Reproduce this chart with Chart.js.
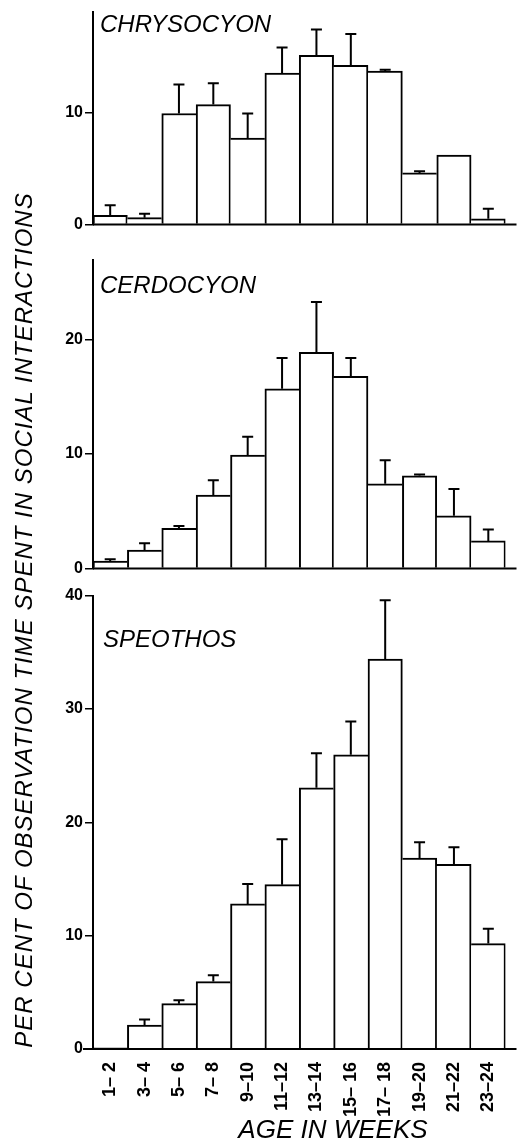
<!DOCTYPE html>
<html>
<head>
<meta charset="utf-8">
<script src="https://cdn.jsdelivr.net/npm/chart.js@4/dist/chart.umd.min.js"></script>
<style>
  html, body { margin: 0; padding: 0; background: #fff; }
  #wrap { position: relative; width: 517px; height: 1142px; overflow: hidden; }
  .panel { position: absolute; left: 0; width: 517px; }
  #ytitle {
    position: absolute; left: -426px; top: 606px; width: 900px; height: 28px;
    line-height: 28px; text-align: center; transform: rotate(-90deg);
    font: italic 24px "Liberation Sans", Arial, sans-serif; letter-spacing: 1px;
    color: #000; white-space: nowrap;
  }
</style>
</head>
<body>
<div id="wrap">
  <div class="panel" style="top:0; height:236px"><canvas id="c1"></canvas></div>
  <div class="panel" style="top:248px; height:332px"><canvas id="c2"></canvas></div>
  <div class="panel" style="top:584px; height:558px"><canvas id="c3"></canvas></div>
  <div id="ytitle">PER CENT OF OBSERVATION TIME SPENT IN SOCIAL INTERACTIONS</div>
</div>
<script>
const ageLabels = ['1– 2', '3– 4', '5– 6', '7– 8', '9–10', '11–12', '13–14', '15– 16', '17– 18', '19–20', '21–22', '23–24'];
const panelNames = ['CHRYSOCYON', 'CERDOCYON', 'SPEOTHOS'];
const xTitle = 'AGE IN WEEKS';

// mean per cent of time, and top of the error bar (null = none drawn)
const chrysocyonPct = [0.8, 0.6, 9.9, 10.7, 7.7, 13.5, 15.1, 14.2, 13.7, 4.6, 6.2, 0.5];
const chrysocyonErr = [1.7, 0.95, 12.5, 12.6, 9.9, 15.8, 17.4, 17.0, 13.8, 4.75, null, 1.4];
const cerdocyonPct = [0.65, 1.6, 3.5, 6.4, 9.9, 15.7, 18.9, 16.8, 7.4, 8.1, 4.6, 2.4];
const cerdocyonErr = [0.8, 2.2, 3.7, 7.7, 11.5, 18.4, 23.3, 18.4, 9.45, 8.2, 6.95, 3.4];
const speothosPct = [0.1, 2.1, 4.0, 5.95, 12.8, 14.5, 23.05, 25.95, 34.4, 16.85, 16.3, 9.3];
const speothosErr = [null, 2.6, 4.3, 6.5, 14.55, 18.5, 26.1, 28.9, 39.6, 18.25, 17.8, 10.6];

const FONT = '"Liberation Sans", Arial, sans-serif';

const errorBars = {
  id: 'errorBars',
  afterDatasetsDraw(chart, args, opts) {
    const { ctx } = chart;
    const y = chart.scales.y;
    const bars = chart.getDatasetMeta(0).data;
    ctx.save();
    ctx.strokeStyle = '#000';
    ctx.lineWidth = 2;
    bars.forEach((bar, i) => {
      const top = opts.tops[i];
      if (top == null) return;
      const yt = y.getPixelForValue(top);
      ctx.beginPath();
      ctx.moveTo(bar.x, bar.y);
      ctx.lineTo(bar.x, yt);
      ctx.moveTo(bar.x - 5.5, yt);
      ctx.lineTo(bar.x + 5.5, yt);
      ctx.stroke();
    });
    ctx.restore();
  }
};

const panelText = {
  id: 'panelText',
  afterDraw(chart, args, opts) {
    const { ctx, chartArea } = chart;
    const y0 = chart.scales.y.getPixelForValue(0);
    ctx.save();
    // baseline runs a little past the last bar
    ctx.strokeStyle = '#000';
    ctx.lineWidth = 2;
    ctx.beginPath();
    ctx.moveTo(chartArea.left - opts.baseLeft, y0);
    ctx.lineTo(chartArea.right + 11, y0);
    ctx.stroke();
    ctx.fillStyle = '#000';
    ctx.font = 'italic 24px ' + FONT;
    ctx.textBaseline = 'alphabetic';
    ctx.fillText(opts.name, opts.x, opts.y);
    if (opts.xTitle) {
      ctx.font = 'italic 26px ' + FONT;
      ctx.textAlign = 'center';
      ctx.fillText(opts.xTitle, 333, chart.height - 4);
    }
    ctx.restore();
  }
};

// draw each shared wall between neighbouring bars only once
function sideWidths(ctx) {
  const d = ctx.dataset.data;
  const i = ctx.dataIndex;
  const left = (i === 0 || d[i - 1] <= d[i]) ? 2 : 0;
  const right = (i === d.length - 1 || d[i + 1] < d[i]) ? 2 : 0;
  return { top: 2, left, right, bottom: 0 };
}

function makePanel(id, values, tops, cfg) {
  return new Chart(document.getElementById(id), {
    type: 'bar',
    data: {
      labels: ageLabels,
      datasets: [{
        data: values,
        backgroundColor: '#fff',
        borderColor: '#000',
        borderWidth: sideWidths,
        borderSkipped: 'start',
        categoryPercentage: 1,
        barPercentage: 1
      }]
    },
    options: {
      responsive: true,
      maintainAspectRatio: false,
      animation: false,
      layout: { padding: { top: 10, bottom: cfg.showX ? 0 : 10, left: 0, right: 11.5 } },
      plugins: {
        legend: { display: false },
        tooltip: { enabled: false },
        errorBars: { tops },
        panelText: { name: cfg.name, x: cfg.nameX, y: cfg.nameY, baseLeft: cfg.baseLeft, xTitle: cfg.showX ? xTitle : null }
      },
      scales: {
        x: {
          display: cfg.showX,
          grid: { display: false },
          border: { display: false },
          ticks: {
            color: '#000',
            font: { family: FONT, size: 18, weight: 'bold' },
            minRotation: 90,
            maxRotation: 90,
            padding: 5,
            autoSkip: false
          },
          afterFit(s) { s.height = cfg.showX ? 93 : 0; }
        },
        y: {
          min: 0,
          max: cfg.max,
          ticks: {
            stepSize: 10,
            color: '#000',
            padding: 2,
            font: { family: FONT, size: 16, weight: 'bold' }
          },
          grid: { drawOnChartArea: false, drawTicks: true, tickLength: 8, color: '#000', lineWidth: 1.5 },
          border: { display: true, color: '#000', width: 2 },
          afterBuildTicks(s) { s.ticks = s.ticks.filter(t => t.value % 10 === 0); },
          afterFit(s) { s.width = 93; }
        }
      }
    },
    plugins: [errorBars, panelText]
  });
}

makePanel('c1', chrysocyonPct, chrysocyonErr, { name: panelNames[0], nameX: 100, nameY: 32, max: 19, showX: false, baseLeft: 0 });
makePanel('c2', cerdocyonPct, cerdocyonErr, { name: panelNames[1], nameX: 100, nameY: 45, max: 27, showX: false, baseLeft: 0 });
makePanel('c3', speothosPct, speothosErr, { name: panelNames[2], nameX: 103, nameY: 63, max: 40, showX: true, baseLeft: 10 });
</script>
</body>
</html>
